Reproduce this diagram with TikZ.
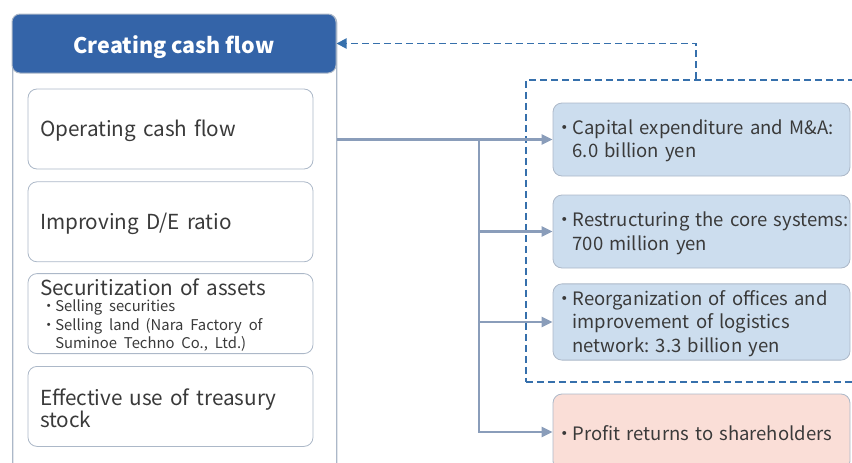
\documentclass[tikz,border=0pt]{standalone}
\usepackage{fontspec}
\setmainfont{Noto Sans CJK JP}
\usetikzlibrary{positioning,arrows.meta}

\definecolor{headblue}{RGB}{52,100,168}
\definecolor{dashblue}{RGB}{54,112,172}
\definecolor{flowgray}{RGB}{138,157,186}
\definecolor{framegray}{RGB}{172,184,200}
\definecolor{boxblue}{RGB}{204,221,238}
\definecolor{boxpink}{RGB}{250,222,215}
\definecolor{txt}{RGB}{58,58,58}

% bullet and the matching hang for wrapped lines
\newcommand{\bul}{\makebox[0.9em][c]{・}}
\newcommand{\ind}{\hspace*{0.9em}}
% struts so every line sits at the same height in its box
\newcommand{\srcstrut}{\rule[-1pt]{0pt}{22pt}}
\newcommand{\usestrut}{\rule[-2pt]{0pt}{20pt}}

\begin{document}
\frenchspacing
\begin{tikzpicture}[x=1pt, y=-1pt,
    panel/.style={draw=framegray, line width=1.3pt, rounded corners=8pt,
                  minimum width=324pt, minimum height=480pt, anchor=north west},
    head/.style={fill=headblue, draw=framegray, line width=1pt, rounded corners=8pt,
                 minimum width=324pt, minimum height=59pt, text=white,
                 text height=20pt, text depth=0.4pt,
                 font=\fontsize{21.5}{24}\selectfont\bfseries},
    srcbox/.style={draw=framegray, fill=white, rounded corners=9pt, line width=0.8pt,
                   minimum height=80pt, text width=261pt, inner xsep=12pt,
                   align=left, text=txt, font=\fontsize{20.7}{21.6}\selectfont},
    usebox/.style={draw=framegray, rounded corners=9pt, line width=0.8pt,
                   minimum height=73pt, text width=291pt, inner xsep=3pt,
                   align=left, text=txt, font=\fontsize{18.5}{22}\selectfont},
    flow/.style={draw=flowgray, line width=2.8pt,
                 -{Triangle[length=11pt,width=10pt]}},
    back/.style={draw=dashblue, line width=1.9pt, dash pattern=on 7pt off 4pt,
                 -{Triangle[length=10pt,width=10pt]}},
    node distance=12pt
]
\useasboundingbox (0,0) rectangle (852,463);

% left column: sources of cash
\node[panel] (panel) at (12,14) {};
\node[head] (head) at (174,43.5) {Creating cash flow};
\node[srcbox] (opcf) at (170.5,129) {\srcstrut Operating cash flow};
\node[srcbox, below=of opcf] (de) {\srcstrut Improving D/E ratio};
\node[srcbox, inner ysep=0.5pt, below=11pt of de] (secur) {\srcstrut Securitization of assets\par
    \vspace{-2pt}
    {\fontsize{14.8}{18.3}\selectfont\hspace*{2pt}\bul Selling securities\\
     \hspace*{2pt}\bul Selling land\kern-1pt{} (Nara Factory of\\
     \hspace*{2pt}\ind Suminoe Techno Co., Ltd.)\rule[-4pt]{0pt}{4pt}\par}};
\node[srcbox, below=of secur] (treas) {\srcstrut Effective use of treasury\\
    stock};

% right column: uses of cash
\node[draw=dashblue, line width=1.9pt, dash pattern=on 7pt off 4pt,
      minimum width=360pt, minimum height=302pt, anchor=north west] (invest) at (525,79) {};
\node[usebox, fill=boxblue] (capex) at (701.5,139.5)
    {\usestrut\bul Capital expenditure and M\&A:\\
     \usestrut\ind 6.0 billion yen};
\node[usebox, fill=boxblue] (core) at (701.5,231.5)
    {\usestrut\mbox{\bul Restructuring the core systems:}\\
     \usestrut\ind 700 million yen};
\node[usebox, fill=boxblue, minimum height=74pt] (offices) at (701.5,322)
    {\usestrut\bul Reorganization of offices and\\
     \usestrut\ind improvement of logistics\\
     \usestrut\ind network: 3.3 billion yen};
\node[usebox, fill=boxpink, minimum height=76pt] (profit) at (701.5,432)
    {\usestrut\bul Profit returns to shareholders};

% connectors
\coordinate (split) at (479,0);
\coordinate (ret) at (696,79);
\draw[flow] (panel.east |- capex.west) -- (capex.west);
\draw[flow] (split |- capex.west) -- (split |- profit.west) -- (profit.west);
\draw[flow] (split |- core.west) -- (core.west);
\draw[flow] (split |- offices.west) -- (offices.west);
\draw[back] (ret) |- (head.east);
\end{tikzpicture}
\end{document}
